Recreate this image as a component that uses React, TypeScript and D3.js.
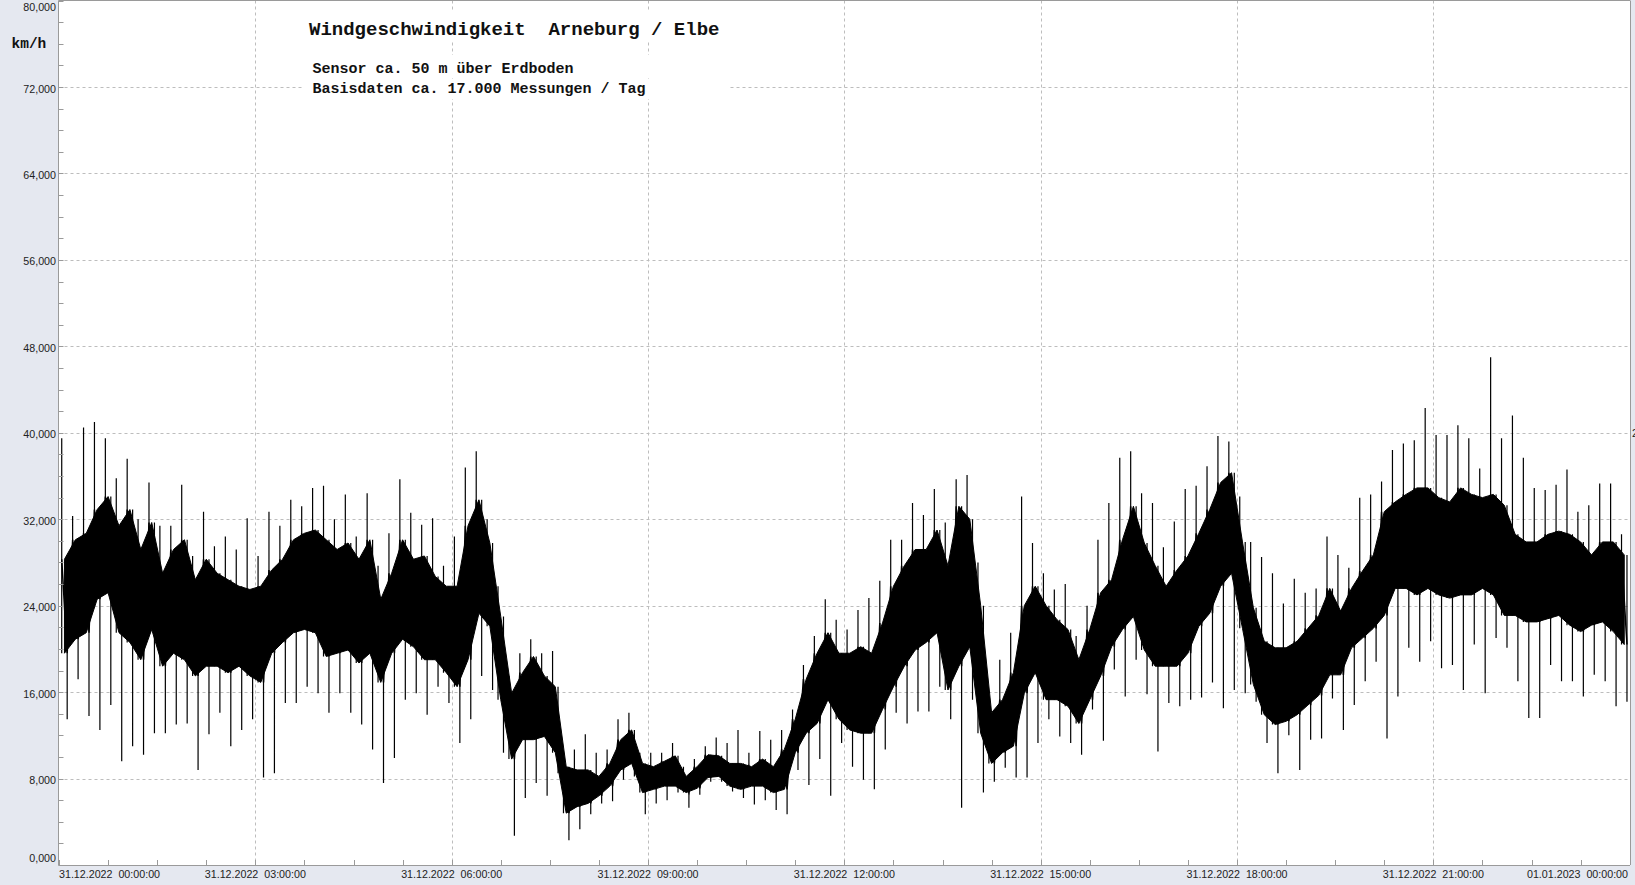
import React from 'react';
import * as d3 from 'd3';

// ---- data (km/h), 10-minute buckets from 31.12.2022 00:00 to 01.01.2023 00:00 ----
const startTime = new Date(2022, 11, 31, 0, 0, 0);
const endTime = new Date(2023, 0, 1, 0, 0, 0);
const bucketMinutes = 10;

// highest gust spike per bucket
const peakHigh = [
  39.5, 32.3, 40.5, 41.0, 39.5, 35.8, 37.6, 32.0, 35.4, 31.4, 31.4, 35.2, 28.6, 32.7, 29.5, 30.4, 29.2, 32.1,
  28.6, 32.7, 31.4, 33.8, 33.2, 34.9, 35.1, 32.0, 34.3, 30.4, 34.4, 27.7, 30.7, 35.7, 32.6, 31.5, 32.1, 27.7,
  30.4, 36.8, 38.3, 32.0, 25.8, 17.5, 19.6, 20.9, 19.6, 19.8, 10.4, 10.7, 12.1, 10.4, 10.7, 13.5, 14.1, 10.4,
  10.4, 10.4, 11.3, 9.1, 9.8, 11.0, 11.8, 11.3, 12.5, 10.4, 12.4, 11.6, 12.5, 14.4, 18.5, 21.2, 24.6, 22.7,
  21.8, 23.6, 24.7, 26.3, 30.1, 30.1, 33.5, 32.4, 34.8, 31.7, 35.7, 36.1, 28.0, 15.5, 19.0, 21.5, 34.1, 29.8,
  27.0, 25.5, 26.0, 21.2, 24.0, 30.1, 33.5, 37.7, 38.3, 34.4, 33.5, 29.4, 31.8, 34.8, 35.1, 36.9, 39.7, 39.2,
  34.1, 29.9, 28.5, 27.0, 24.2, 26.5, 25.2, 25.6, 30.4, 28.7, 27.5, 34.0, 34.3, 35.5, 38.4, 39.0, 39.3, 42.3,
  39.8, 39.8, 40.7, 39.5, 36.7, 47.0, 39.5, 41.6, 37.7, 34.9, 34.7, 35.2, 36.6, 32.7, 33.3, 35.3, 35.3, 30.6,
];

// lowest dip per bucket
const peakLow = [
  13.5, 17.2, 13.8, 12.5, 14.8, 9.6, 11.0, 10.2, 12.2, 12.2, 13.0, 13.1, 8.8, 12.1, 14.1, 11.0, 12.5, 13.5,
  8.1, 8.5, 15.0, 15.0, 16.5, 15.9, 14.1, 15.9, 14.1, 13.0, 10.7, 7.6, 9.9, 15.3, 15.9, 13.9, 16.5, 15.0,
  11.3, 13.5, 17.5, 16.2, 10.4, 2.7, 6.2, 7.6, 6.4, 8.5, 2.3, 3.3, 4.7, 5.7, 5.9, 7.9, 8.2, 4.7,
  5.7, 6.0, 6.7, 5.3, 6.5, 7.7, 7.7, 6.8, 6.2, 5.6, 6.0, 5.1, 4.7, 8.8, 7.4, 9.8, 6.4, 11.3,
  9.1, 7.9, 7.0, 10.7, 14.1, 13.1, 14.2, 14.2, 16.5, 13.5, 5.3, 15.3, 6.7, 7.7, 9.0, 8.1, 8.1, 11.3,
  13.5, 11.9, 11.3, 10.2, 14.4, 11.5, 18.1, 15.6, 19.0, 15.8, 10.5, 15.0, 14.7, 15.3, 15.5, 16.9, 14.5, 16.2,
  15.9, 15.1, 11.3, 8.5, 12.0, 8.8, 11.6, 11.7, 15.4, 12.5, 14.8, 17.0, 18.8, 11.7, 15.6, 20.1, 18.8, 20.7,
  18.2, 18.5, 16.2, 20.4, 15.9, 21.0, 20.1, 17.0, 13.6, 13.6, 18.5, 17.0, 17.0, 15.6, 17.6, 17.0, 14.7, 15.1,
];

// upper edge of the dense band of measurements
const bandHigh = [
  28.3, 30.1, 30.7, 32.9, 34.1, 31.4, 32.9, 29.2, 31.7, 27.0, 29.2, 30.1, 26.4, 28.3, 27.0, 26.4, 25.8, 25.5,
  25.8, 27.3, 28.3, 30.1, 30.7, 31.0, 30.1, 29.2, 29.8, 28.3, 30.1, 24.6, 27.0, 30.1, 28.3, 28.6, 26.7, 25.8,
  25.8, 31.4, 33.8, 29.8, 23.0, 15.9, 17.8, 19.3, 17.5, 16.5, 9.1, 8.8, 8.8, 8.2, 9.4, 11.6, 12.5, 9.4,
  9.1, 9.6, 10.1, 8.2, 9.1, 10.2, 10.1, 9.4, 9.4, 9.1, 9.8, 9.1, 10.7, 13.5, 17.2, 19.6, 21.5, 19.6,
  19.6, 20.2, 19.6, 22.4, 25.8, 27.7, 29.2, 29.2, 31.0, 27.7, 33.2, 32.0, 24.0, 14.1, 15.3, 17.8, 24.0, 25.8,
  24.0, 22.7, 21.8, 19.0, 21.8, 25.2, 26.4, 30.1, 33.2, 29.8, 27.7, 25.8, 27.3, 28.6, 30.7, 32.9, 35.4, 36.3,
  29.9, 23.8, 20.7, 20.1, 20.1, 20.7, 21.9, 23.1, 25.6, 23.5, 25.6, 27.2, 28.7, 32.7, 33.6, 34.3, 34.9, 34.9,
  34.0, 33.6, 34.9, 34.3, 34.0, 34.3, 33.3, 30.6, 29.9, 29.9, 30.6, 30.9, 30.6, 29.9, 28.7, 29.9, 29.9, 28.7,
];

// lower edge of the dense band of measurements
const bandLow = [
  19.6, 20.9, 21.5, 24.6, 25.2, 21.5, 20.6, 19.0, 21.8, 18.4, 19.6, 19.0, 17.5, 18.4, 18.4, 17.8, 18.4, 17.5,
  16.9, 19.6, 20.6, 21.5, 21.8, 21.5, 19.3, 19.6, 19.9, 18.7, 19.6, 16.9, 19.6, 20.9, 20.2, 19.0, 19.0, 17.8,
  16.5, 19.0, 23.3, 22.1, 15.3, 9.8, 11.6, 11.6, 11.9, 10.4, 4.8, 5.4, 5.7, 6.4, 7.3, 8.8, 9.4, 6.7,
  7.0, 7.3, 7.3, 6.7, 7.1, 8.1, 8.2, 7.3, 7.0, 7.3, 7.3, 6.7, 7.0, 10.4, 12.2, 13.1, 15.3, 13.5,
  12.5, 12.2, 12.2, 14.4, 16.5, 18.4, 19.9, 20.6, 21.5, 16.2, 18.4, 20.2, 12.2, 9.4, 10.4, 11.0, 15.9, 17.8,
  15.3, 15.3, 14.7, 13.1, 15.3, 17.5, 20.2, 21.8, 23.0, 19.9, 18.4, 18.4, 18.4, 19.6, 22.1, 23.3, 25.8, 27.0,
  21.9, 16.7, 13.9, 13.0, 13.3, 13.9, 14.8, 15.7, 17.6, 17.6, 20.1, 21.0, 21.9, 23.1, 25.6, 25.6, 25.0, 25.6,
  25.0, 24.7, 25.0, 25.0, 25.6, 25.0, 23.1, 23.1, 22.5, 22.5, 22.8, 23.1, 22.2, 21.6, 22.2, 22.5, 21.6, 20.4,
];

const yTicks = [0, 8, 16, 24, 32, 40, 48, 56, 64, 72, 80];
const yMinorStep = 2;
const xTickHours = [0, 3, 6, 9, 12, 15, 18, 21, 24];
const xTickLabels = [
  '31.12.2022  00:00:00', '31.12.2022  03:00:00', '31.12.2022  06:00:00', '31.12.2022  09:00:00',
  '31.12.2022  12:00:00', '31.12.2022  15:00:00', '31.12.2022  18:00:00', '31.12.2022  21:00:00',
  '01.01.2023  00:00:00',
];
const xMinorMinutes = 45;
const titleText = 'Windgeschwindigkeit  Arneburg / Elbe';
const subLines = ['Sensor ca. 50 m über Erdboden', 'Basisdaten ca. 17.000 Messungen / Tag'];
const unitText = 'km/h';

const W = 1635;
const H = 885;
const L = 58.5;
const R = 1630;
const T = 0.5;
const B = 865;

const fmt = (v: number) => d3.format('.3f')(v).replace('.', ',');
const addMin = (m: number) => new Date(startTime.getTime() + m * 60000);

export default function App() {
  const x = d3.scaleTime().domain([startTime, endTime]).range([59, 1629.7]);
  const y = d3.scaleLinear().domain([0, 80]).range([B, 0.6]);

  // vertical spikes: up-spike and down-spike per bucket, plus a thin connecting trace
  let spikePath = '';
  peakHigh.forEach((v, i) => {
    const xu = x(addMin(i * bucketMinutes + 2.5));
    const xd = x(addMin(i * bucketMinutes + 7.5));
    spikePath += `M${xu},${y(bandLow[i])}V${y(v)}`;
    spikePath += `M${xd},${y(bandHigh[i])}V${y(peakLow[i])}`;
  });

  const zig: [number, number][] = [];
  peakHigh.forEach((v, i) => {
    zig.push([x(addMin(i * bucketMinutes + 2.5)), y(bandHigh[i])]);
    zig.push([x(addMin(i * bucketMinutes + 7.5)), y(bandLow[i])]);
  });
  const zigPath = d3.line()(zig) || '';

  const band = d3
    .area<number>()
    .x((_, i) => x(addMin(i * bucketMinutes + bucketMinutes / 2)))
    .y0((_, i) => y(bandLow[i]))
    .y1((v) => y(v));
  const bandPath = band(bandHigh) || '';

  const minorY = d3.range(0, 80 + 0.001, yMinorStep);
  const minorX = d3.range(0, 24 * 60 + 0.001, xMinorMinutes);
  const grid = '#bdbdbd';
  const axis = '#9a9a9a';

  return (
    <div style={{ position: 'absolute', left: 0, top: 0 }}>
      <svg width={W} height={H} style={{ display: 'block' }}>
        <rect x={0} y={0} width={W} height={H} fill="#e5e8f0" />
        <rect x={L} y={T} width={R - L} height={B - T} fill="#ffffff" />

        {/* horizontal grid */}
        {yTicks.filter((v) => v > 0 && v < 80).map((v) => (
          <line key={'gy' + v} x1={L} x2={R} y1={Math.round(y(v)) + 0.5} y2={Math.round(y(v)) + 0.5}
            stroke={grid} strokeDasharray="3,3" />
        ))}
        {/* vertical grid */}
        {xTickHours.filter((h) => h > 0 && h < 24).map((h) => (
          <line key={'gx' + h} y1={T} y2={B} x1={Math.round(x(addMin(h * 60))) + 0.5} x2={Math.round(x(addMin(h * 60))) + 0.5}
            stroke={grid} strokeDasharray="3,3" />
        ))}

        {/* data */}
        <path d={bandPath} fill="#000" stroke="#000" strokeWidth={1} />
        <path d={zigPath} fill="none" stroke="#000" strokeWidth={1.5} />
        <path d={spikePath} fill="none" stroke="#000" strokeWidth={1.2} />

        {/* text boxes */}
        <rect x={302} y={10} width={427} height={31} fill="#fff" />
        <rect x={302} y={55} width={427} height={21} fill="#fff" />
        <rect x={302} y={79} width={427} height={20} fill="#fff" />
        <text x={309} y={35} fontFamily="'Liberation Mono', 'Courier New', monospace" fontWeight="bold" fontSize={19}
          style={{ whiteSpace: 'pre' }} fill="#111">{titleText}</text>
        {subLines.map((s, i) => (
          <text key={s} x={312.5} y={72.7 + i * 20} fontFamily="'Liberation Mono', 'Courier New', monospace"
            fontWeight="bold" fontSize={15} style={{ whiteSpace: 'pre' }} fill="#111">{s}</text>
        ))}

        {/* axes frame */}
        <line x1={L} x2={R} y1={T} y2={T} stroke={axis} />
        <line x1={L} x2={L} y1={T} y2={B} stroke={axis} />
        <line x1={L} x2={R} y1={B + 0.5} y2={B + 0.5} stroke={axis} />
        <line x1={R + 0.5} x2={R + 0.5} y1={T} y2={B} stroke={axis} />

        {/* minor ticks */}
        {minorY.map((v) => (
          <line key={'my' + v} x1={L} x2={L + 5} y1={Math.round(y(v)) + 0.5} y2={Math.round(y(v)) + 0.5} stroke={axis} />
        ))}
        {minorX.map((m) => (
          <line key={'mx' + m} y1={B - 5} y2={B} x1={Math.round(x(addMin(m))) + 0.5} x2={Math.round(x(addMin(m))) + 0.5} stroke={axis} />
        ))}

        {/* y labels */}
        {yTicks.map((v) => (
          <text key={'ly' + v} x={56} y={v === 80 ? 7.3 : v === 0 ? 858.3 : y(v) + 1.5} textAnchor="end"
            dominantBaseline="central" fontFamily="'Liberation Sans', Arial, sans-serif" fontSize={10.7} fill="#222">
            {fmt(v)}
          </text>
        ))}
        <text x={1632} y={433} dominantBaseline="central" fontFamily="'Liberation Sans', Arial, sans-serif"
          fontSize={10.7} fill="#222">2</text>

        {/* x labels */}
        {xTickHours.map((h, i) => {
          const px = x(addMin(h * 60));
          const anchor = i === 0 ? 'start' : i === xTickHours.length - 1 ? 'end' : 'middle';
          const tx = i === 0 ? 59 : i === xTickHours.length - 1 ? 1628 : px;
          return (
            <text key={'lx' + h} x={tx} y={874.3} textAnchor={anchor} dominantBaseline="central"
              fontFamily="'Liberation Sans', Arial, sans-serif" fontSize={10.7} fill="#222" style={{ whiteSpace: 'pre' }}>
              {xTickLabels[i]}
            </text>
          );
        })}

        {/* unit */}
        <text x={11.5} y={44} dominantBaseline="central" fontFamily="'Liberation Mono', 'Courier New', monospace"
          fontWeight="bold" fontSize={14.5} fill="#111">{unitText}</text>
      </svg>
    </div>
  );
}
